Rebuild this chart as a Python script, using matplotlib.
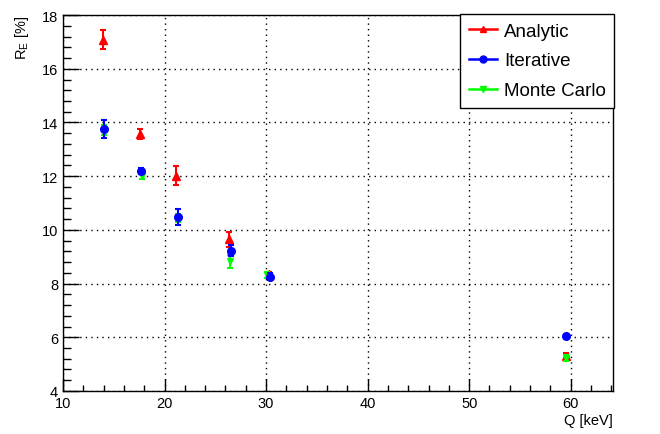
import matplotlib
matplotlib.use("Agg")
import matplotlib.pyplot as plt
from matplotlib.ticker import MultipleLocator
from matplotlib.lines import Line2D

plt.rcParams['font.family'] = ['Liberation Sans', 'DejaVu Sans']

# Data
q_an = [13.95, 17.6, 21.15, 26.35, 30.25, 59.55]
re_an = [17.08, 13.57, 12.02, 9.65, 8.35, 5.3]
err_an = [0.36, 0.2, 0.36, 0.28, 0.08, 0.1]

q_it = [14.0, 17.7, 21.3, 26.5, 30.35, 59.5]
re_it = [13.76, 12.19, 10.48, 9.23, 8.26, 6.04]
err_it = [0.35, 0.1, 0.3, 0.2, 0.12, 0.06]

q_mc = [14.0, 17.75, 21.3, 26.45, 30.05, 59.5]
re_mc = [13.72, 12.0, 10.45, 8.83, 8.32, 5.22]
err_mc = [0.2, 0.1, 0.15, 0.25, 0.1, 0.12]

labels = ['Analytic', 'Iterative', 'Monte Carlo']
colors = ['#ff0000', '#0000ff', '#00ff00']
markers = ['^', 'o', 'v']

fig = plt.figure(figsize=(6.6, 4.35), dpi=100)
ax = fig.add_axes([0.0955, 0.099, 0.833, 0.864])

ax.errorbar(q_an, re_an, yerr=err_an, fmt=markers[0], color=colors[0], ms=5.5,
            capsize=2.2, elinewidth=1.5, capthick=1.5, zorder=3)
ax.errorbar(q_mc, re_mc, yerr=err_mc, fmt=markers[2], color=colors[2], ms=4.5,
            capsize=2.2, elinewidth=1.5, capthick=1.5, zorder=4)
ax.errorbar(q_it, re_it, yerr=err_it, fmt=markers[1], color=colors[1], ms=5.5,
            capsize=2.2, elinewidth=1.5, capthick=1.5, zorder=5)

ax.set_xlim(10, 64.15)
ax.set_ylim(4, 18)
ax.xaxis.set_major_locator(MultipleLocator(10))
ax.xaxis.set_minor_locator(MultipleLocator(2))
ax.yaxis.set_major_locator(MultipleLocator(2))
ax.yaxis.set_minor_locator(MultipleLocator(0.4))
ax.tick_params(which='both', direction='in', top=False, right=False,
               labelsize=10.5, width=1)
ax.tick_params(axis='x', which='major', length=9, pad=4)
ax.tick_params(axis='x', which='minor', length=4.5)
ax.tick_params(axis='y', which='major', length=11.5)
ax.tick_params(axis='y', which='minor', length=5.5)
ax.grid(True, which='major', linestyle=(0, (1, 3)), color='black', linewidth=1)
for s in ax.spines.values():
    s.set_linewidth(1)

ax.set_xlabel('Q [keV]', fontsize=10.5, loc='right', labelpad=2)
ax.set_ylabel('R$_\\mathregular{E}$ [%]', fontsize=10.5, loc='top', labelpad=8)

handles = [Line2D([], [], color=c, marker=m, ms=5, lw=1.8)
           for c, m in zip(colors, markers)]
leg = ax.legend(handles, labels, loc='upper right', bbox_to_anchor=(1.003, 1.003),
                fontsize=13.5, frameon=True, fancybox=False, edgecolor='black',
                framealpha=1, borderpad=0.45, handlelength=1.5, handletextpad=0.4,
                labelspacing=0.68, borderaxespad=0)
leg.get_frame().set_linewidth(1)

fig.savefig('out.png', dpi=100)
